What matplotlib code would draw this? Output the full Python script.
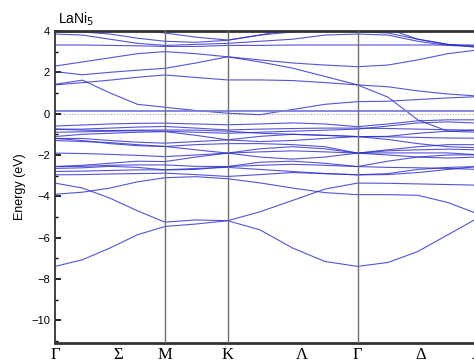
import matplotlib
matplotlib.use("Agg")
import matplotlib.pyplot as plt
from matplotlib.ticker import MultipleLocator

# k-path sample positions (Γ-M-K-Γ-A) and symmetry points
k_path = [0.0, 0.275, 0.55, 0.825, 1.10, 1.41, 1.727, 2.05, 2.377, 2.70, 3.027, 3.33, 3.63, 3.93, 4.23]
sym_pos = [1.10, 1.727, 3.027]
label_pos = [0.0, 0.63, 1.10, 1.727, 2.467, 3.027, 3.657, 4.23]
label_txt = ["Γ", "Σ", "M", "K", "Λ", "Γ", "Δ", "A"]

# nearly flat band just above E_F
flat_band = [0.13, 0.13, 0.13, 0.13, 0.13, 0.13, 0.13, 0.13, 0.13, 0.13, 0.13, 0.13, 0.13, 0.13, 0.13]

# band energies (eV) at the k_path samples
bands = [
    [-7.39, -7.07, -6.5, -5.86, -5.46, -5.34, -5.18, -5.62, -6.5, -7.15, -7.39, -7.2, -6.67, -5.86, -5.05],
    [-3.36, -3.6, -4.09, -4.7, -5.25, -5.14, -5.18, -4.75, -4.2, -3.65, -3.36, -3.37, -3.4, -3.43, -3.46],
    [-3.9, -3.8, -3.6, -3.3, -3.1, -3.05, -3.15, -3.35, -3.6, -3.82, -3.92, -3.92, -3.95, -4.3, -4.85],
    [-2.96, -2.95, -2.92, -2.9, -2.88, -2.95, -3.04, -2.95, -2.85, -2.9, -2.96, -2.95, -2.85, -2.7, -2.56],
    [-2.8, -2.78, -2.75, -2.72, -2.72, -2.65, -2.6, -2.7, -2.8, -2.9, -2.96, -2.9, -2.7, -2.6, -2.56],
    [-2.65, -2.62, -2.55, -2.6, -2.72, -2.7, -2.56, -2.35, -2.3, -2.4, -2.56, -2.6, -2.62, -2.65, -2.7],
    [-2.56, -2.55, -2.5, -2.48, -2.48, -2.55, -2.56, -2.5, -2.45, -2.5, -2.56, -2.3, -2.1, -2.0, -1.99],
    [-2.56, -2.5, -2.4, -2.3, -2.32, -2.1, -1.91, -1.7, -1.6, -1.7, -1.91, -1.8, -1.75, -1.72, -1.75],
    [-1.91, -1.93, -1.97, -2.02, -2.08, -2.0, -1.91, -1.85, -1.8, -1.85, -1.91, -1.9, -1.9, -1.9, -1.99],
    [-1.3, -1.35, -1.4, -1.5, -1.59, -1.75, -1.91, -2.1, -2.2, -2.1, -1.91, -2.0, -2.1, -2.15, -2.1],
    [-1.2, -1.3, -1.45, -1.55, -1.59, -1.5, -1.45, -1.45, -1.5, -1.6, -1.91, -1.75, -1.6, -1.5, -1.5],
    [-1.2, -1.2, -1.3, -1.38, -1.43, -1.35, -1.27, -1.1, -1.0, -1.05, -1.11, -1.25, -1.45, -1.6, -1.65],
    [-1.11, -1.0, -0.95, -0.9, -0.87, -1.05, -1.27, -1.35, -1.3, -1.2, -1.11, -1.12, -1.15, -1.18, -1.19],
    [-0.9, -0.88, -0.85, -0.83, -0.85, -0.9, -0.95, -0.9, -0.85, -0.8, -0.75, -0.6, -0.45, -0.4, -0.46],
    [-0.75, -0.8, -0.82, -0.8, -0.79, -0.8, -0.85, -0.95, -1.0, -1.05, -1.11, -1.1, -0.95, -0.85, -0.8],
    [-0.75, -0.75, -0.7, -0.65, -0.62, -0.7, -0.79, -0.75, -0.72, -0.7, -0.7, -0.72, -0.75, -0.78, -0.8],
    [-0.6, -0.55, -0.5, -0.47, -0.46, -0.5, -0.54, -0.5, -0.45, -0.5, -0.63, -0.5, -0.35, -0.3, -0.3],
    [1.42, 1.62, 1.0, 0.45, 0.31, 0.15, 0.02, -0.05, 0.2, 0.45, 0.58, 0.6, 0.68, 0.76, 0.82],
    [1.39, 1.5, 1.62, 1.76, 1.87, 1.75, 1.63, 1.63, 1.6, 1.5, 1.39, 1.3, 1.1, 0.95, 0.85],
    [2.03, 1.88, 2.0, 2.1, 2.19, 2.45, 2.75, 2.5, 2.2, 1.8, 1.39, 0.8, -0.3, -0.85, -0.9],
    [2.3, 2.5, 2.7, 2.9, 3.0, 2.9, 2.75, 2.6, 2.45, 2.35, 2.27, 2.35, 2.6, 2.9, 3.08],
    [3.32, 3.32, 3.3, 3.28, 3.25, 3.25, 3.3, 3.3, 3.32, 3.32, 3.32, 3.32, 3.32, 3.32, 3.32],
    [3.85, 3.8, 3.6, 3.4, 3.3, 3.35, 3.4, 3.5, 3.6, 3.8, 3.85, 3.8, 3.5, 3.3, 3.25],
    [3.96, 3.95, 3.85, 3.65, 3.5, 3.45, 3.55, 3.8, 3.95, 4.05, 3.96, 3.9, 3.6, 3.35, 3.25],
    [4.4, 4.35, 4.2, 4.05, 3.9, 3.7, 3.56, 3.8, 4.1, 4.3, 4.4, 4.1, 3.6, 3.35, 3.2],
]

fig = plt.figure(figsize=(4.74, 3.64), dpi=100)
ax = fig.add_axes([0.116, 0.058, 0.892, 0.857])

for e in bands:
    ax.plot(k_path, e, color="#2a2acc", lw=0.8, alpha=0.8)
ax.plot(k_path, flat_band, color="#7a7ae0", lw=1.4, alpha=0.9)

for x in sym_pos:
    ax.axvline(x, color="#707070", lw=1.0, zorder=3)
ax.axhline(0, color="#aaaaaa", lw=0.8, ls=(0, (1, 1.5)), zorder=1)

ax.set_xlim(k_path[0], k_path[-1])
ax.set_ylim(-11.09, 4)
ax.set_xticks(label_pos)
ax.set_xticklabels(label_txt, family="Liberation Serif", fontsize=12)
ax.tick_params(axis="x", length=0, pad=3)
ax.yaxis.set_major_locator(MultipleLocator(2))
ax.yaxis.set_minor_locator(MultipleLocator(1))
ax.tick_params(axis="y", which="both", direction="in", labelsize=8, right=False)
ax.tick_params(axis="y", which="major", length=4, width=1.2)
ax.tick_params(axis="y", which="minor", length=2.5, width=1.0)
for lab in ax.get_yticklabels():
    lab.set_family("Liberation Sans")

ax.set_ylabel("Energy (eV)", family="Liberation Sans", fontsize=9, labelpad=4)
ax.spines["top"].set_linewidth(2)
ax.spines["bottom"].set_linewidth(2)
ax.spines["left"].set_linewidth(1.3)
for s in ax.spines.values():
    s.set_color("#333333")

fig.text(0.122, 0.935, "LaNi$_5$", family="Liberation Sans", fontsize=10)

plt.savefig("out.png", dpi=100)
